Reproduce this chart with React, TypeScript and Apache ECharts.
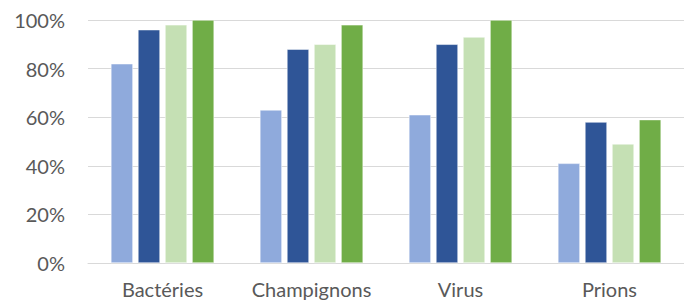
import React, { useEffect, useRef } from "react";
import * as echarts from "echarts";

const categories = ["Bactéries", "Champignons", "Virus", "Prions"];
const series1 = [82, 63, 61, 41];
const series2 = [96, 88, 90, 58];
const series3 = [98, 90, 93, 49];
const series4 = [100, 98, 100, 59];
const colors = ["#8FAADC", "#2F5597", "#C5E0B4", "#70AD47"];

export default function App() {
  const ref = useRef<HTMLDivElement>(null);
  useEffect(() => {
    const chart = echarts.init(ref.current!, null, { renderer: "svg" });
    const mk = (data: number[], i: number) => ({
      type: "bar",
      data,
      barWidth: 22,
      barGap: "23%",
      itemStyle: { color: colors[i], borderColor: "#ffffff", borderWidth: 0.5 },
    });
    chart.setOption({
      animation: false,
      grid: { left: 88, right: 0, top: 20, bottom: 41 },
      xAxis: {
        type: "category",
        data: categories,
        axisLine: { lineStyle: { color: "#D9D9D9", width: 1 } },
        axisTick: { show: false },
        axisLabel: {
          interval: 0,
          hideOverlap: false,
          color: "#595959",
          fontSize: 20,
          fontFamily: "Lato",
          margin: 16,
        },
      },
      yAxis: {
        type: "value",
        min: 0,
        max: 100,
        interval: 20,
        axisLine: { show: false },
        axisTick: { show: false },
        splitLine: { lineStyle: { color: "#D9D9D9", width: 1 } },
        axisLabel: {
          color: "#595959",
          fontSize: 20,
          fontFamily: "Lato",
          margin: 23,
          formatter: "{value}%",
        },
      },
      series: [mk(series1, 0), mk(series2, 1), mk(series3, 2), mk(series4, 3)],
    });
    return () => chart.dispose();
  }, []);
  return <div ref={ref} style={{ width: 684, height: 304, position: "absolute", left: 0, top: 0 }} />;
}
